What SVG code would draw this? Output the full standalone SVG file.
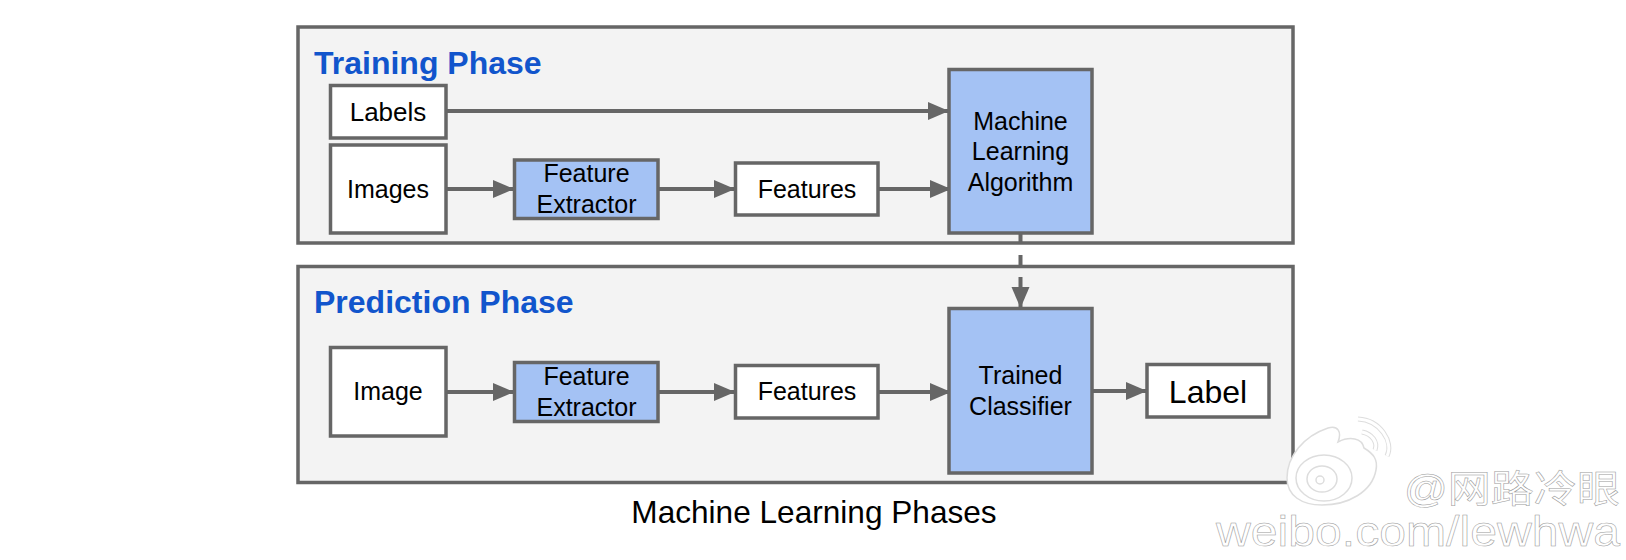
<svg xmlns="http://www.w3.org/2000/svg" width="1626" height="560" viewBox="0 0 1626 560">
<style>
text{font-family:"Liberation Sans",Arial,sans-serif;fill:#000;text-anchor:middle}
.panel{fill:#f3f3f3;stroke:#666;stroke-width:3.500}
.w{fill:#fff;stroke:#666;stroke-width:3.500}
.b{fill:#a4c2f4;stroke:#666;stroke-width:3.500}
.n{font-size:25px}
.h{font-size:32px;font-weight:bold;fill:#1155cc;text-anchor:start}
.c{fill:none;stroke:#666;stroke-width:4}
.wm{font-family:"Liberation Sans","Noto Sans CJK SC",sans-serif;fill:#fff;stroke:#999;stroke-width:.5;text-anchor:start}
.lg{fill:#fff;stroke:#ddd;stroke-width:1.5}
.lgl{fill:none;stroke:#ddd;stroke-width:5}
.lgw{fill:none;stroke:#fff;stroke-width:3}
</style>
<defs>
<marker id="a" markerUnits="userSpaceOnUse" markerWidth="23" markerHeight="20" refX="21" refY="10" orient="auto"><path d="M0 1L21 10L0 19Z" fill="#666"/></marker>
</defs>
<g id="training-panel"><rect class="panel" x="298" y="27" width="995" height="216"/><text class="h" x="314" y="74">Training Phase</text></g>
<g id="prediction-panel"><rect class="panel" x="298" y="266.500" width="995" height="216"/><text class="h" x="314" y="313">Prediction Phase</text></g>
<g id="connectors">
<path class="c" marker-end="url(#a)" d="M446 111H949"/>
<path class="c" marker-end="url(#a)" d="M446 189H514"/>
<path class="c" marker-end="url(#a)" d="M658 189H735"/>
<path class="c" marker-end="url(#a)" d="M878 189H951"/>
<path class="c" marker-end="url(#a)" d="M1020.500 233V308" stroke-dasharray="11 11"/>
<path class="c" marker-end="url(#a)" d="M446 392H514"/>
<path class="c" marker-end="url(#a)" d="M658 392H735"/>
<path class="c" marker-end="url(#a)" d="M878 392H951"/>
<path class="c" marker-end="url(#a)" d="M1092 391H1147"/>
</g>
<g id="labels"><rect class="w" x="330.500" y="85.500" width="115.500" height="52.500"/><text x="388" y="121" font-size="26">Labels</text></g>
<g id="images"><rect class="w" x="330.500" y="145" width="115.500" height="88"/><text class="n" x="388" y="198">Images</text></g>
<g id="extractor-1"><rect class="b" x="514.500" y="160" width="143.500" height="58.500"/><text class="n" x="586.500" y="182">Feature</text><text class="n" x="586.500" y="213">Extractor</text></g>
<g id="features-1"><rect class="w" x="735.500" y="163" width="142.500" height="52"/><text class="n" x="807" y="198">Features</text></g>
<g id="algorithm"><rect class="b" x="949" y="69.500" width="143" height="163.500"/><text class="n" x="1020.500" y="130">Machine</text><text class="n" x="1020.500" y="160">Learning</text><text class="n" x="1020.500" y="191">Algorithm</text></g>
<g id="image"><rect class="w" x="330.500" y="347.500" width="115.500" height="88.500"/><text class="n" x="388" y="400">Image</text></g>
<g id="extractor-2"><rect class="b" x="514.500" y="362.500" width="143.500" height="59"/><text class="n" x="586.500" y="385">Feature</text><text class="n" x="586.500" y="416">Extractor</text></g>
<g id="features-2"><rect class="w" x="735.500" y="365.500" width="142.500" height="52.500"/><text class="n" x="807" y="400">Features</text></g>
<g id="classifier"><rect class="b" x="949" y="308.500" width="143" height="164.500"/><text class="n" x="1020.500" y="384">Trained</text><text class="n" x="1020.500" y="415">Classifier</text></g>
<g id="label"><rect class="w" x="1147" y="364.500" width="122" height="52.500"/><text x="1208" y="403" font-size="32">Label</text></g>
<text id="caption" x="814" y="523" font-size="31.600">Machine Learning Phases</text>
<g id="watermark">
<path class="lg" d="M1287 478C1287 456 1304 436 1328 428C1338 425 1342 432 1338 442C1350 436 1362 438 1364 448C1374 454 1378 460 1376 470C1372 492 1348 505 1322 505C1302 505 1287 496 1287 478Z"/>
<ellipse class="lg" cx="1324" cy="478" rx="28" ry="23"/>
<ellipse class="lg" cx="1322" cy="479" rx="15" ry="13"/>
<circle class="lg" cx="1320" cy="480" r="4"/>
<path class="lgl" d="M1358 419C1380 420 1394 442 1387 456"/><path class="lgw" d="M1358 419C1380 420 1394 442 1387 456"/>
<path class="lgl" d="M1362 432C1372 434 1378 442 1375 450"/><path class="lgw" d="M1362 432C1372 434 1378 442 1375 450"/>
<text class="wm" x="1404" y="502" font-size="38" textLength="216" lengthAdjust="spacingAndGlyphs">@网路冷眼</text>
<text class="wm" x="1216" y="546" font-size="42" textLength="404" lengthAdjust="spacingAndGlyphs">weibo.com/lewhwa</text>
</g>
</svg>
